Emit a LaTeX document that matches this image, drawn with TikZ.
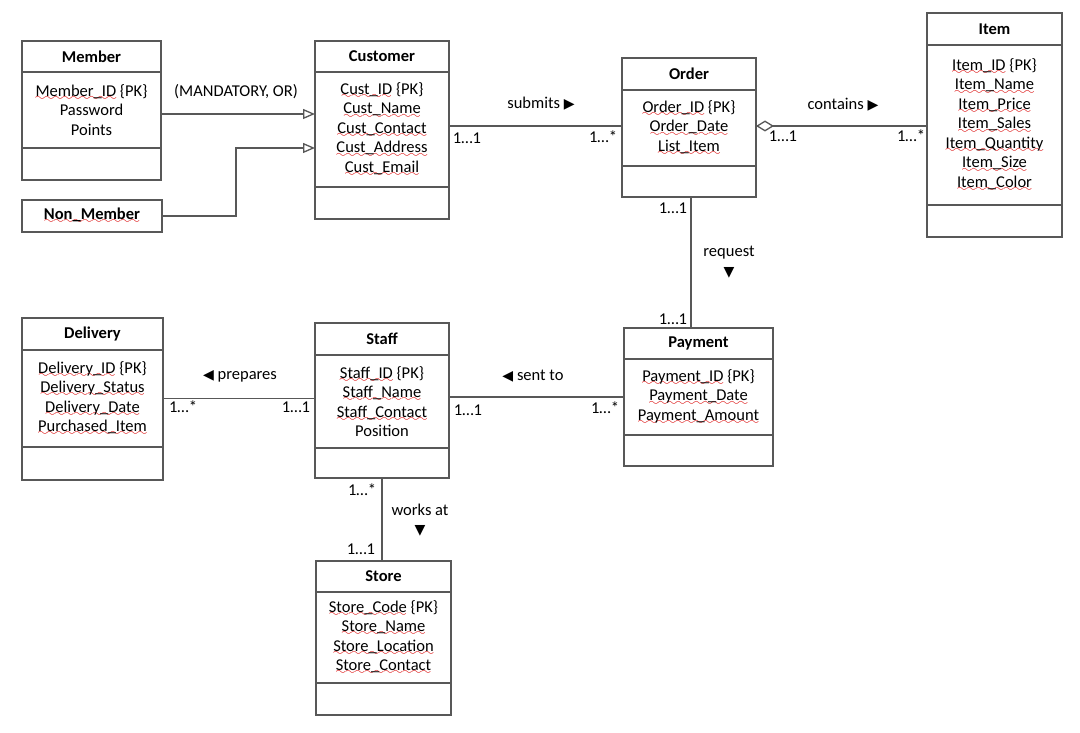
\documentclass[tikz,border=0pt]{standalone}
\usepackage{fontspec}
\setmainfont{Carlito}
\newfontfamily\symfont{DejaVu Sans}
\usetikzlibrary{positioning,arrows.meta}

\definecolor{linegray}{RGB}{88,88,88}
\newcommand{\pxu}{0.02cm}
% red spell-check wave under a word
\font\wavefont=lasy6
\newcommand{\sq}[1]{\setbox0\hbox{#1}\rlap{\color{red!85!black}\lower2.4pt\hbox to \wd0{\xleaders\hbox{\wavefont\char58}\hfill}}\box0\relax}
\newcommand{\tright}{{\symfont\fontsize{8}{8}\selectfont ▶}}
\newcommand{\tleft}{{\symfont\fontsize{8}{8}\selectfont ◀}}
\newcommand{\tdown}{{\symfont\fontsize{8}{8}\selectfont ▼}}

\tikzset{
    box/.style={draw=linegray, line width=0.75pt, inner sep=0pt, outer sep=0pt},
    classhead/.style={box, font=\fontsize{9.4}{11.1}\selectfont\bfseries, anchor=north west},
    classattr/.style={box, font=\fontsize{9.4}{11.1}\selectfont, align=center},
    classops/.style={box},
    conn/.style={draw=linegray, line width=0.75pt},
    gen/.style={conn, -{Triangle[open, length=0.24cm, width=0.2cm]}},
    agg/.style={conn, {Diamond[open, length=0.36cm, width=0.22cm]}-},
    lbl/.style={font=\fontsize{9.4}{11.1}\selectfont, inner sep=0pt, align=center}
}

\begin{document}
\begin{tikzpicture}[x=\pxu, y=-\pxu]
\useasboundingbox (0,0) rectangle (1080,733);

% ===== Member =====
\node[classhead, minimum width=139*\pxu, minimum height=31*\pxu] (mem) at (22,41) {Member};
\node[classattr, below=0pt of mem, minimum width=139*\pxu, minimum height=76*\pxu] (mem-a) {\sq{Member\_ID} \{PK\}\\Password\\Points};
\node[classops, below=0pt of mem-a, minimum width=139*\pxu, minimum height=32*\pxu] (mem-o) {};

% ===== Non_Member =====
\node[classhead, minimum width=140*\pxu, minimum height=32*\pxu] (nonmem) at (22,200) {\sq{Non\_Member}};

% ===== Customer =====
\node[classhead, minimum width=134*\pxu, minimum height=31*\pxu] (cust) at (315,41) {Customer};
\node[classattr, below=0pt of cust, minimum width=134*\pxu, minimum height=115*\pxu] (cust-a) {\sq{Cust\_ID} \{PK\}\\\sq{Cust\_Name}\\\sq{Cust\_Contact}\\\sq{Cust\_Address}\\\sq{Cust\_Email}};
\node[classops, below=0pt of cust-a, minimum width=134*\pxu, minimum height=32*\pxu] (cust-o) {};

% ===== Order =====
\node[classhead, minimum width=134*\pxu, minimum height=32*\pxu] (order) at (622,58) {Order};
\node[classattr, below=0pt of order, minimum width=134*\pxu, minimum height=76*\pxu] (order-a) {\sq{Order\_ID} \{PK\}\\\sq{Order\_Date}\\\sq{List\_Item}};
\node[classops, below=0pt of order-a, minimum width=134*\pxu, minimum height=31*\pxu] (order-o) {};

% ===== Item =====
\node[classhead, minimum width=135*\pxu, minimum height=32*\pxu] (item) at (927,13) {Item};
\node[classattr, below=0pt of item, minimum width=135*\pxu, minimum height=160*\pxu] (item-a) {\sq{Item\_ID} \{PK\}\\\sq{Item\_Name}\\\sq{Item\_Price}\\\sq{Item\_Sales}\\\sq{Item\_Quantity}\\\sq{Item\_Size}\\\sq{Item\_Color}};
\node[classops, below=0pt of item-a, minimum width=135*\pxu, minimum height=32*\pxu] (item-o) {};

% ===== Delivery =====
\node[classhead, minimum width=141*\pxu, minimum height=32*\pxu] (deliv) at (22,318) {Delivery};
\node[classattr, below=0pt of deliv, minimum width=141*\pxu, minimum height=97*\pxu] (deliv-a) {\sq{Delivery\_ID} \{PK\}\\\sq{Delivery\_Status}\\\sq{Delivery\_Date}\\\sq{Purchased\_Item}};
\node[classops, below=0pt of deliv-a, minimum width=141*\pxu, minimum height=33*\pxu] (deliv-o) {};

% ===== Staff =====
\node[classhead, minimum width=134*\pxu, minimum height=32*\pxu] (staff) at (315,323) {Staff};
\node[classattr, below=0pt of staff, minimum width=134*\pxu, minimum height=93*\pxu] (staff-a) {\sq{Staff\_ID} \{PK\}\\\sq{Staff\_Name}\\\sq{Staff\_Contact}\\Position};
\node[classops, below=0pt of staff-a, minimum width=134*\pxu, minimum height=30*\pxu] (staff-o) {};

% ===== Payment =====
\node[classhead, minimum width=149*\pxu, minimum height=31*\pxu] (pay) at (624,328) {Payment};
\node[classattr, below=0pt of pay, minimum width=149*\pxu, minimum height=76*\pxu] (pay-a) {\sq{Payment\_ID} \{PK\}\\\sq{Payment\_Date}\\\sq{Payment\_Amount}};
\node[classops, below=0pt of pay-a, minimum width=149*\pxu, minimum height=31*\pxu] (pay-o) {};

% ===== Store =====
\node[classhead, minimum width=135*\pxu, minimum height=31*\pxu] (store) at (316,561) {Store};
\node[classattr, below=0pt of store, minimum width=135*\pxu, minimum height=91*\pxu] (store-a) {\sq{Store\_Code} \{PK\}\\\sq{Store\_Name}\\\sq{Store\_Location}\\\sq{Store\_Contact}};
\node[classops, below=0pt of store-a, minimum width=135*\pxu, minimum height=32*\pxu] (store-o) {};

% ===== Connectors =====
\draw[gen] ([yshift=-0.08cm]mem-a.east) -- ([yshift=-0.08cm]mem-a.east -| cust-a.west);
\draw[gen] (nonmem.east) -- ++(74,0) |- ([yshift=-0.37cm]cust-a.west);
\draw[conn] ([yshift=0.04cm]order-a.west -| cust-a.east) -- ([yshift=0.04cm]order-a.west);
\draw[agg] ([yshift=0.04cm]order-a.east) -- ([yshift=0.04cm]order-a.east -| item-a.west);
\draw[conn] ([xshift=0.04cm]order-o.south) -- ([xshift=0.04cm]order-o.south |- pay.north);
\draw[conn] (pay-a.west -| staff-a.east) -- (pay-a.west);
\draw[conn] (deliv-a.east) -- (deliv-a.east -| staff-a.west);
\draw[conn] (staff-o.south) -- (staff-o.south |- store.north);

% ===== Labels =====
\node[lbl] (l-mand) at (236,92) {(MANDATORY, OR)};
\node[lbl] (l-sub)  at (541,104) {submits \tright};
\node[lbl] (l-con)  at (843,105) {contains \tright};
\node[lbl] (l-req)  at (729,262) {request\\\tdown};
\node[lbl] (l-sent) at (533,376) {\tleft{} sent to};
\node[lbl] (l-prep) at (240,376) {\tleft{} prepares};
\node[lbl] (l-work) at (420,520) {works at\\\tdown};

% ===== Multiplicities =====
\node[lbl] (m-co1) at (467,138) {1…1};
\node[lbl] (m-co2) at (603,137) {1…*};
\node[lbl] (m-oi1) at (783,136) {1…1};
\node[lbl] (m-oi2) at (911,136) {1…*};
\node[lbl] (m-op1) at (673,208) {1…1};
\node[lbl] (m-op2) at (673,319) {1…1};
\node[lbl] (m-sp1) at (468,410) {1…1};
\node[lbl] (m-sp2) at (605,408) {1…*};
\node[lbl] (m-ds1) at (183,407) {1…*};
\node[lbl] (m-ds2) at (296,407) {1…1};
\node[lbl] (m-ss1) at (362,490) {1…*};
\node[lbl] (m-ss2) at (361,549) {1…1};

\end{tikzpicture}
\end{document}
